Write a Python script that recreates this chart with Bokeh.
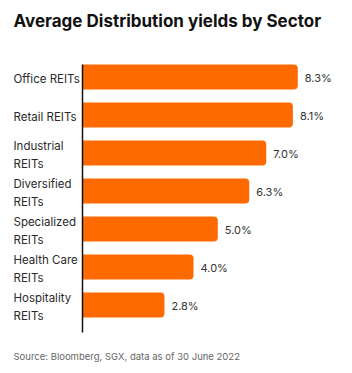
from bokeh.plotting import figure
from bokeh.models import Range1d, ColumnDataSource
from bokeh.core.properties import value
from bokeh.embed import file_html
from bokeh.resources import INLINE

# ---- data ----
categories = ["Office REITs", "Retail REITs", "Industrial\nREITs", "Diversified\nREITs",
              "Specialized\nREITs", "Health Care\nREITs", "Hospitality\nREITs"]
yields = [8.3, 8.1, 7.0, 6.3, 5.0, 4.0, 2.8]
title_text = "Average Distribution yields by Sector"
source_text = "Source: Bloomberg, SGX, data as of 30 June 2022"

# ---- layout helpers ----
W, H = 352, 373
AXIS_PX = 82          # pixel x of the bar baseline
K = 24.24             # pixels per percentage point
BASE = -0.58          # value at the baseline
ROW0_PX = 76.5        # pixel y of the first bar centre
ROW_PX = 38.0         # pixel spacing between bars

def xv(px):
    return BASE + (px - AXIS_PX) / K

def yr(px):
    return (px - ROW0_PX) / ROW_PX

p = figure(width=W, height=H, output_backend="svg", toolbar_location=None,
           x_range=Range1d(xv(0), xv(W)), y_range=Range1d(yr(H), yr(0)),
           x_axis_location=None, y_axis_location=None,
           min_border=0, min_border_left=0, min_border_right=0,
           min_border_top=0, min_border_bottom=0)
p.outline_line_color = None
p.grid.visible = False
p.background_fill_color = "white"
p.border_fill_color = "white"

rows = list(range(len(categories)))
src = ColumnDataSource(dict(
    y=rows, v=yields, cat=categories,
    lab=[f"{v:.1f}%" for v in yields],
    base=[BASE] * len(rows),
    labx=[xv(13)] * len(rows),
))

p.hbar(y="y", left="base", right="v", height=25 / ROW_PX, source=src,
       fill_color="#FF6A00", line_color=None, border_radius=(0, 4, 4, 0))

# axis line
p.segment(x0=[BASE], y0=[yr(64)], x1=[BASE], y1=[yr(332)],
          line_color="#111111", line_width=1.5)

# value labels
p.text(x="v", y="y", text="lab", source=src, x_offset=7, y_offset=1,
       text_align="left", text_baseline="middle",
       text_font=value("Inter"), text_font_size="11px", text_color="#333333")

# category labels
p.text(x="labx", y="y", text="cat", source=src, y_offset=2,
       text_align="left", text_baseline="middle", text_line_height=1.3,
       text_font=value("Inter"), text_font_size="11.5px", text_color="#2a2a2a")

# title
p.text(x=[xv(13)], y=[yr(20)], text=[title_text],
       text_align="left", text_baseline="middle",
       text_font=value("Inter"), text_font_style="bold",
       text_font_size="17px", text_color="#111111")

# source
p.text(x=[xv(13)], y=[yr(356)], text=[source_text],
       text_align="left", text_baseline="middle",
       text_font=value("Inter"), text_font_size="9.5px", text_color="#666666")

open("out.html", "w").write(file_html(p, INLINE))
